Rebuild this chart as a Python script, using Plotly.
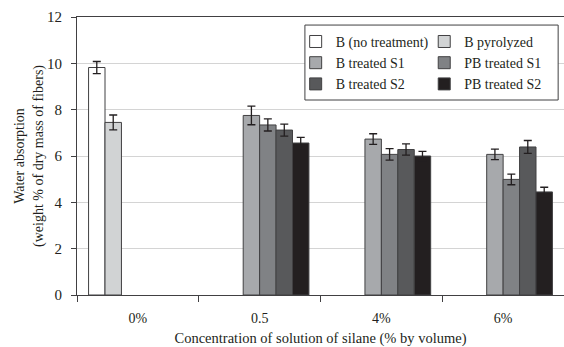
import plotly.graph_objects as go

categories = ["0%", "0.5", "4%", "6%"]
series_names = ["B (no treatment)", "B pyrolyzed", "B treated S1",
                "PB treated S1", "B treated S2", "PB treated S2"]
b_none = [9.82, None, None, None]
b_none_err = [0.26, None, None, None]
b_pyro = [7.45, None, None, None]
b_pyro_err = [0.32, None, None, None]
b_s1 = [None, 7.75, 6.73, 6.07]
b_s1_err = [None, 0.40, 0.23, 0.23]
pb_s1 = [None, 7.34, 6.07, 4.99]
pb_s1_err = [None, 0.26, 0.25, 0.23]
b_s2 = [None, 7.12, 6.28, 6.39]
b_s2_err = [None, 0.26, 0.24, 0.28]
pb_s2 = [None, 6.56, 6.00, 4.45]
pb_s2_err = [None, 0.24, 0.20, 0.20]
y_ticks = [0, 2, 4, 6, 8, 10, 12]

values = [b_none, b_pyro, b_s1, pb_s1, b_s2, pb_s2]
errors = [b_none_err, b_pyro_err, b_s1_err, pb_s1_err, b_s2_err, pb_s2_err]
colors = ["#ffffff", "#d1d3d4", "#a7a9ac", "#808285", "#58595b", "#231f20"]
legend_ids = ["legend", "legend2", "legend", "legend2", "legend", "legend2"]

FONT = "Liberation Serif, Times New Roman, serif"
TXT = "#231f20"

fig = go.Figure()
for i, (name, v, e, c) in enumerate(zip(series_names, values, errors, colors)):
    fig.add_trace(go.Bar(
        name=name, x=categories, y=v, legend=legend_ids[i],
        legendgroup=f"g{i}",
        marker=dict(color=c, line=dict(color="#414042", width=1)),
        error_y=dict(type="data", array=e, visible=True, color="#231f20",
                     thickness=1.3, width=4),
    ))

leg_common = dict(
    orientation="v", yanchor="top", xanchor="left",
    bgcolor="rgba(0,0,0,0)", borderwidth=0,
    font=dict(family=FONT, size=14, color=TXT),
    traceorder="normal", tracegroupgap=2,
)

fig.update_layout(
    width=564, height=347,
    margin=dict(l=77, r=0, t=17, b=52),
    paper_bgcolor="white", plot_bgcolor="white",
    font=dict(family=FONT, size=14, color=TXT),
    barmode="group", bargap=0.19, bargroupgap=0,
    showlegend=True,
    legend=dict(x=0.449, y=0.968, **leg_common),
    legend2=dict(x=0.713, y=0.968, **leg_common),
    shapes=[dict(type="rect", xref="paper", yref="paper",
                 x0=0.468, x1=0.988, y0=0.7014, y1=0.971,
                 line=dict(color="#414042", width=1), fillcolor="white",
                 layer="above")],
)
fig.update_xaxes(
    type="category", categoryorder="array", categoryarray=categories,
    showline=True, linecolor="#414042", linewidth=1, mirror=True,
    ticks="outside", tickson="boundaries", ticklen=6, tickcolor="#414042",
    showgrid=False, ticklabelstandoff=10, automargin=False,
    title=dict(text="Concentration of solution of silane (% by volume)",
               standoff=12, font=dict(size=14.5)),
    tickfont=dict(size=14),
)
fig.update_yaxes(
    range=[0, 12], tickvals=y_ticks,
    showline=True, linecolor="#414042", linewidth=1,
    ticks="outside", ticklen=5, tickcolor="#414042",
    showgrid=True, gridcolor="#d4d4d4", gridwidth=1,
    zeroline=False, ticklabelstandoff=6, automargin=False,
    title=dict(text="Water absorption<br>(weight % of dry mass of fibers)",
               standoff=0, font=dict(size=14)),
    tickfont=dict(size=15),
)

fig.write_html("out.html")
